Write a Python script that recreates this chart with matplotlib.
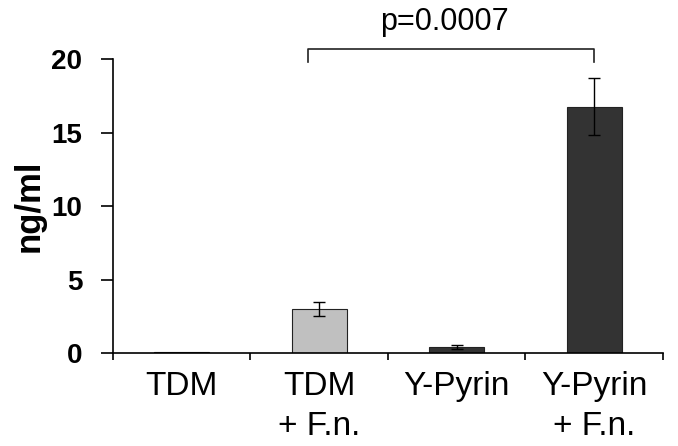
import matplotlib
matplotlib.use("Agg")
import matplotlib.pyplot as plt
import numpy as np

# values
groups = ["TDM", "TDM\n+ F.n.", "Y-Pyrin", "Y-Pyrin\n+ F.n."]
means = [0.05, 3.0, 0.4, 16.75]
errors = [0.0, 0.45, 0.13, 1.95]
colors = ["#c0c0c0", "#c0c0c0", "#333333", "#333333"]
p_label = "p=0.0007"

plt.rcParams["font.family"] = ["Liberation Sans", "DejaVu Sans"]

fig = plt.figure(figsize=(6.78, 4.46), dpi=100)
ax = fig.add_axes([0.1662, 0.2085, 0.8118, 0.6592])

x = np.arange(len(groups))
ax.bar(x, means, width=0.4, color=colors, edgecolor="#222222", linewidth=0.8, zorder=2)
ax.errorbar(x[1:], means[1:], yerr=errors[1:], fmt="none", ecolor="black",
            elinewidth=1.0, capsize=4.5, capthick=1.0, zorder=3)

ax.set_xlim(-0.5, 3.5)
ax.set_ylim(0, 20)
ax.set_yticks([0, 5, 10, 15, 20])
ax.set_xticks(np.arange(-0.5, 4, 1.0))
ax.set_xticklabels([])
ax.set_xticks(x, minor=True)
ax.set_xticklabels(groups, minor=True, fontsize=24, linespacing=1.38, va="top")
ax.tick_params(axis="x", which="minor", length=0, pad=13)
ax.tick_params(axis="x", which="major", direction="out", length=5, width=1.2)
ax.tick_params(axis="y", direction="out", length=9, width=1.2, labelsize=20, pad=13)
for lab in ax.get_yticklabels():
    lab.set_fontweight("bold")
ax.set_ylabel("ng/ml", fontsize=25, fontweight="bold", labelpad=4)

for s in ["top", "right"]:
    ax.spines[s].set_visible(False)
for s in ["left", "bottom"]:
    ax.spines[s].set_linewidth(1.2)

# significance bracket
bx = [0.92, 0.92, 3.0, 3.0]
by = [19.8, 20.7, 20.7, 19.8]
ax.plot(bx, by, color="#222222", linewidth=1.2, clip_on=False)
ax.text(1.91, 21.97, p_label, ha="center", va="baseline", fontsize=22)

fig.savefig("out.png", dpi=100)
